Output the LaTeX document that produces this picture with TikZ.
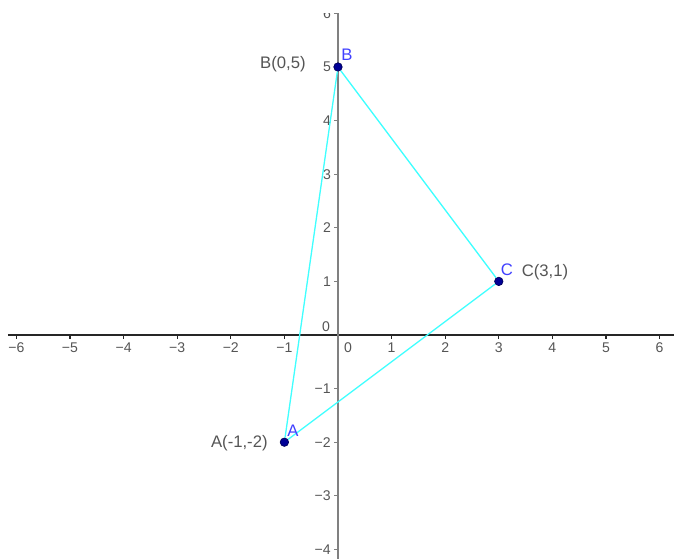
\documentclass[tikz,border=0pt]{standalone}
\usepackage{fontspec}
\setmainfont{Liberation Sans}
\usetikzlibrary{positioning}

\definecolor{ggcyan}{RGB}{64,255,255}
\definecolor{ggblue}{RGB}{64,64,255}
\definecolor{ggpoint}{RGB}{0,0,150}
\definecolor{gglabel}{RGB}{85,85,85}

\tikzset{
    pt/.style={circle, fill=ggpoint, draw=ggpoint!60!black, inner sep=0pt, minimum size=4.8pt},
    ticklab/.style={text=gglabel, font=\fontsize{8}{9}\selectfont, inner sep=0pt},
    ptname/.style={text=ggblue, font=\fontsize{9.5}{11}\selectfont, inner sep=0pt},
    coordlab/.style={text=gglabel, font=\fontsize{9.5}{11}\selectfont, inner sep=0pt},
    side/.style={ggcyan, line width=0.75pt}
}

\begin{document}
\begin{tikzpicture}[x=1.072cm, y=1.072cm]
    \useasboundingbox (-6.306,-4.179) rectangle (6.269,6.25);

    \begin{scope}
    \clip (-6.306,-4.179) rectangle (6.269,6.007);

    % Axes
    \draw[black!85, line width=0.6pt] (-6.157,0) -- (6.269,0);
    \draw[black!50, line width=1.1pt] (0,-4.179) -- (0,6.007);

    % Ticks on x axis
    \foreach \n in {1,...,6} {
        \draw[black!85, line width=0.6pt] (\n,0) -- (\n,-0.075);
        \draw[black!85, line width=0.6pt] (-\n,0) -- (-\n,-0.075);
        \node[ticklab] (xp\n) at (\n,-0.243) {\n};
        \node[ticklab] (xm\n) at (-\n,-0.243) {−\n};
    }
    \node[ticklab] (x0) at (0.187,-0.243) {0};

    % Ticks on y axis
    \foreach \n in {1,...,6} {
        \draw[black!50, line width=0.6pt] (0,\n) -- (-0.075,\n);
        \node[ticklab] (yp\n) at (-0.205,\n) {\n};
    }
    \foreach \n in {1,...,4} {
        \draw[black!50, line width=0.6pt] (0,-\n) -- (-0.075,-\n);
        \node[ticklab, anchor=east] (ym\n) at (-0.13,-\n) {−\n};
    }
    \node[ticklab] (y0) at (-0.224,0.15) {0};
    \end{scope}

    % Points
    \node[pt] (A) at (-1,-2) {};
    \node[pt] (B) at (0,5) {};
    \node[pt] (C) at (3,1) {};

    % Triangle
    \draw[side] (A) -- (B) -- (C) -- (A);

    % Labels
    \node[ptname] (nameB) at (0.168,5.224) {B};
    \node[coordlab, anchor=east] (labB) at (-0.597,5.056) {B(0,5)};
    \node[ptname] (nameC) at (3.153,1.213) {C};
    \node[coordlab] (labC) at (3.862,1.175) {C(3,1)};
    \node[ptname] (nameA) at (-0.84,-1.79) {A};
    \node[coordlab, anchor=east] (labA) at (-1.306,-2.015) {A(-1,-2)};
\end{tikzpicture}
\end{document}
